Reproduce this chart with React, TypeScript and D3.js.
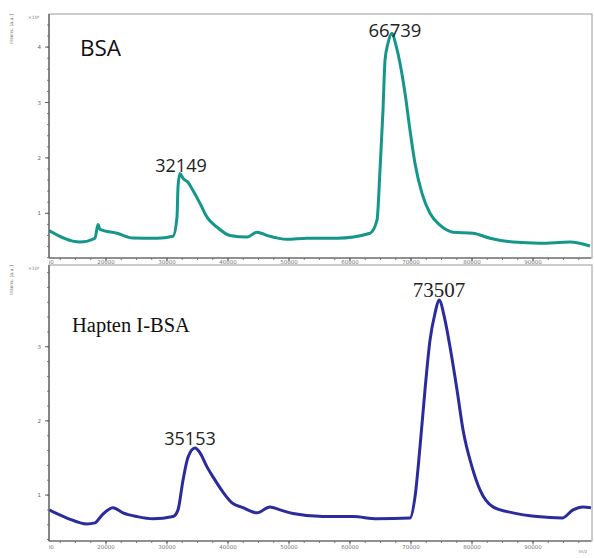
import React from "react";
import * as d3 from "d3";

const bsaMz = [10656, 15738, 18197, 18689, 19016, 21803, 24426, 28361, 30984, 31639, 31803, 32131, 32623, 33443, 34262, 35410, 36557, 38197, 40328, 43115, 44754, 46393, 49672, 52951, 57869, 63279, 64426, 64918, 65410, 65738, 66230, 66885, 67541, 68197, 69016, 69836, 70656, 71803, 73115, 74754, 76885, 80164, 82951, 86721, 91148, 96066, 99344];
const bsaInt = [0.69, 0.48, 0.55, 0.8, 0.71, 0.64, 0.555, 0.55, 0.585, 0.93, 1.47, 1.72, 1.63, 1.56, 1.41, 1.18, 0.93, 0.75, 0.6, 0.57, 0.66, 0.6, 0.53, 0.55, 0.55, 0.64, 0.875, 1.78, 2.86, 3.76, 4.07, 4.25, 4.03, 3.71, 3.17, 2.5, 1.9, 1.36, 1.0, 0.785, 0.66, 0.64, 0.55, 0.48, 0.46, 0.48, 0.41];

const hapMz = [10656, 13607, 16885, 18197, 19344, 21148, 22787, 25082, 27705, 30984, 31803, 32623, 33443, 34590, 35410, 36557, 37541, 39180, 40656, 42459, 44754, 46885, 48525, 50656, 55574, 60492, 64426, 69836, 70656, 71475, 72295, 73115, 73934, 74590, 75574, 76393, 77541, 78525, 80000, 81311, 83443, 86721, 90656, 94754, 96557, 98197, 99500];
const hapInt = [0.8, 0.69, 0.61, 0.625, 0.73, 0.83, 0.76, 0.71, 0.68, 0.71, 0.8, 1.2, 1.51, 1.635, 1.57, 1.38, 1.245, 1.04, 0.895, 0.83, 0.76, 0.84, 0.8, 0.75, 0.71, 0.71, 0.68, 0.69, 0.975, 1.65, 2.42, 3.09, 3.45, 3.63, 3.36, 3.0, 2.42, 1.88, 1.38, 1.07, 0.84, 0.76, 0.71, 0.69, 0.8, 0.84, 0.83];

const xMajor = [10000, 20000, 30000, 40000, 50000, 60000, 70000, 80000, 90000];
const yMajorTop = [1, 2, 3, 4];
const yMajorBottom = [1, 2, 3];

const W = 594, H = 558;
const X0 = 49, X1 = 591;

const x = d3.scaleLinear().domain([10656, 99508]).range([X0, X1]);

type Panel = {
  mz: number[]; val: number[]; color: string;
  yScale: d3.ScaleLinear<number, number>; top: number; bottom: number;
  majors: number[]; id: string; labelDy: number;
};

const panels: Panel[] = [
  { mz: bsaMz, val: bsaInt, color: "#15968a", yScale: d3.scaleLinear().domain([0, 4]).range([268.7, 47.1]), top: 14, bottom: 258, majors: yMajorTop, id: "a", labelDy: 6 },
  { mz: hapMz, val: hapInt, color: "#2a2c9e", yScale: d3.scaleLinear().domain([0, 3]).range([569.2, 346.75]), top: 265, bottom: 541, majors: yMajorBottom, id: "b", labelDy: 8 },
];

function PanelView({ p }: { p: Panel }) {
  const pts = p.mz.map((m, i) => [m, p.val[i]] as [number, number]);
  const line = d3.line<[number, number]>().x(d => x(d[0])).y(d => p.yScale(d[1])).curve(d3.curveMonotoneX);
  const vTop = p.yScale.invert(p.top), vBot = p.yScale.invert(p.bottom);
  const minors = d3.range(0, 5, 0.2).filter(v => v >= vBot && v <= vTop);
  const xMinors = d3.range(10000, 100001, 2500).filter(v => x(v) >= X0 && x(v) <= X1);
  const clipId = "clip" + p.id;
  return (
    <g>
      <defs>
        <clipPath id={clipId}><rect x={X0} y={p.top} width={X1 - X0} height={p.bottom - p.top + 20} /></clipPath>
      </defs>
      <rect x={X0} y={p.top} width={X1 - X0 + 1} height={p.bottom - p.top} fill="none" stroke="#9a9a9a" strokeWidth={1} />
      <path d={line(pts) || ""} fill="none" stroke={p.color} strokeWidth={3} strokeLinejoin="round" clipPath={`url(#${clipId})`} />
      {/* y axis */}
      <line x1={X0} x2={X0} y1={p.top} y2={p.bottom} stroke="#555" strokeWidth={1.2} />
      {minors.map((v, i) => (
        <line key={"ym" + i} x1={X0 - 2} x2={X0} y1={p.yScale(v)} y2={p.yScale(v)} stroke="#666" strokeWidth={0.8} />
      ))}
      {p.majors.map(v => (
        <g key={"yM" + v}>
          <line x1={X0 - 4} x2={X0} y1={p.yScale(v)} y2={p.yScale(v)} stroke="#555" strokeWidth={0.9} />
          <text x={X0 - 8} y={p.yScale(v) + 2} fontSize={5.5} fill="#666" textAnchor="end" fontFamily="DejaVu Sans">{v}</text>
        </g>
      ))}
      <text x={28} y={p.top + 5} fontSize={4.5} fill="#777" fontFamily="DejaVu Sans">×10⁴</text>
      <text transform={`translate(13, ${p.top + 15}) rotate(-90)`} fontSize={4.6} fill="#666" textAnchor="middle" fontFamily="DejaVu Sans">Intens. [a.u.]</text>
      {/* x axis */}
      <line x1={X0} x2={X1} y1={p.bottom} y2={p.bottom} stroke="#555" strokeWidth={1.2} />
      {xMinors.map((v, i) => (
        <line key={"xm" + i} x1={x(v)} x2={x(v)} y1={p.bottom} y2={p.bottom + 2} stroke="#666" strokeWidth={0.8} />
      ))}
      <g clipPath={`url(#${clipId})`}>
        {xMajor.map(v => (
          <g key={"xM" + v}>
            <line x1={x(v)} x2={x(v)} y1={p.bottom} y2={p.bottom + 3.5} stroke="#555" strokeWidth={0.9} />
            <text x={x(v)} y={p.bottom + p.labelDy} fontSize={5.5} fill="#777" textAnchor="middle" fontFamily="DejaVu Sans">{v}</text>
          </g>
        ))}
      </g>
    </g>
  );
}

export default function App() {
  return (
    <svg width={W} height={H} style={{ position: "absolute", left: 0, top: 0, background: "#fff" }}>
      <rect x={0} y={0} width={W} height={H} fill="#fff" />
      <PanelView p={panels[0]} />
      <PanelView p={panels[1]} />
      <text x={583} y={553} fontSize={4.5} fill="#777" textAnchor="middle" fontFamily="DejaVu Sans">m/z</text>
      <text x={80} y={56} fontSize={22.5} fill="#111" fontFamily="Open Sans">BSA</text>
      <text x={395} y={37} fontSize={18.5} fill="#222" textAnchor="middle" fontFamily="Open Sans">66739</text>
      <text x={181} y={172} fontSize={18} fill="#222" textAnchor="middle" fontFamily="Open Sans">32149</text>
      <text x={72} y={332} fontSize={20.5} fill="#111" fontFamily="Liberation Serif">Hapten I-BSA</text>
      <text x={439} y={297} fontSize={21} fill="#222" textAnchor="middle" fontFamily="Liberation Serif">73507</text>
      <text x={190} y={445} fontSize={18} fill="#222" textAnchor="middle" fontFamily="Open Sans">35153</text>
    </svg>
  );
}
